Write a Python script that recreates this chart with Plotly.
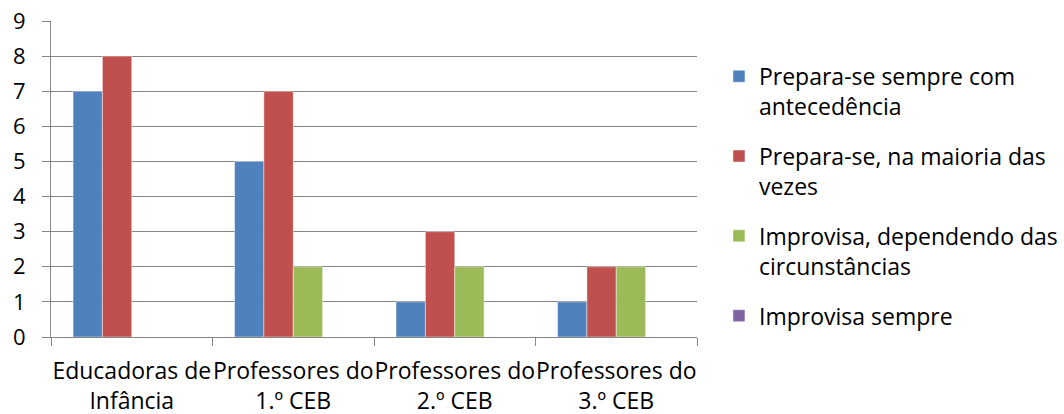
import plotly.graph_objects as go

categories = ["Educadoras de<br>Infância", "Professores do<br>1.º CEB",
              "Professores do<br>2.º CEB", "Professores do<br>3.º CEB"]

series_names = ["Prepara-se sempre com<br>antecedência",
                "Prepara-se, na maioria das<br>vezes",
                "Improvisa, dependendo das<br>circunstâncias",
                "Improvisa sempre"]

prepara_sempre = [7, 5, 1, 1]
prepara_maioria = [8, 7, 3, 2]
improvisa_circunstancias = [0, 2, 2, 2]
improvisa_sempre = [0, 0, 0, 0]

y_ticks = [0, 1, 2, 3, 4, 5, 6, 7, 8, 9]

colors = ["#4F81BD", "#C0504D", "#9BBB59", "#8064A2"]
values = [prepara_sempre, prepara_maioria, improvisa_circunstancias, improvisa_sempre]

FONT = "Open Sans"
GRID = "#868686"

fig = go.Figure()
for i, (name, vals, col) in enumerate(zip(series_names, values, colors)):
    fig.add_trace(go.Bar(
        x=categories, y=vals, name=name, legendgroup=f"g{i}",
        marker=dict(color=col, line=dict(color="rgba(255,255,255,0.45)", width=1)),
    ))

fig.update_layout(
    width=1064, height=414,
    margin=dict(l=51, r=367, t=21, b=77, autoexpand=False),
    paper_bgcolor="white", plot_bgcolor="white",
    barmode="group", bargap=0.273, bargroupgap=0,
    font=dict(family=FONT, size=22, color="#000000"),
    legend=dict(
        x=1.034, xanchor="left", y=0.893, yanchor="top",
        font=dict(family=FONT, size=23, color="#000000"),
        tracegroupgap=17, itemwidth=30, valign="top",
        bgcolor="rgba(0,0,0,0)",
    ),
    showlegend=True,
)

fig.update_yaxes(
    range=[0, 9], tickvals=y_ticks, showgrid=True, gridcolor=GRID, gridwidth=1,
    showline=True, linecolor=GRID, linewidth=1,
    ticks="outside", ticklen=8, tickcolor=GRID, tickwidth=1,
    zeroline=False, ticklabelstandoff=12, automargin=False,
)
fig.update_xaxes(
    showline=True, linecolor=GRID, linewidth=1,
    ticks="outside", ticklen=8, tickcolor=GRID, tickwidth=1,
    tickson="boundaries", showgrid=False, tickangle=0,
    tickfont=dict(size=23), ticklabelstandoff=13, automargin=False,
)

fig.write_html("out.html")
